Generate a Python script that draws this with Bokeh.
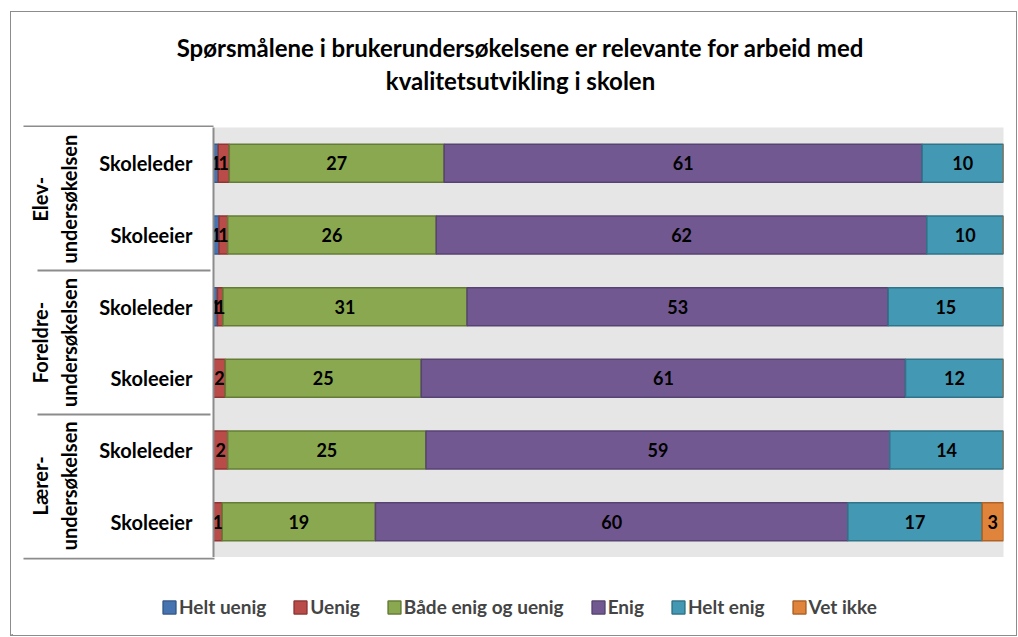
from bokeh.plotting import figure
from bokeh.models import FactorRange, Range1d, Legend, LegendItem, ColumnDataSource
from bokeh.layouts import column
from bokeh.core.properties import value
from bokeh.embed import file_html
from bokeh.resources import INLINE

# ---- data ----
title_lines = ["Spørsmålene i brukerundersøkelsene er relevante for arbeid med",
               "kvalitetsutvikling i skolen"]
groups = ["Elev-\nundersøkelsen", "Elev-\nundersøkelsen",
          "Foreldre-\nundersøkelsen", "Foreldre-\nundersøkelsen",
          "Lærer-\nundersøkelsen", "Lærer-\nundersøkelsen"]
roles = ["Skoleleder", "Skoleeier", "Skoleleder", "Skoleeier", "Skoleleder", "Skoleeier"]
series = ["Helt uenig", "Uenig", "Både enig og uenig", "Enig", "Helt enig", "Vet ikke"]
helt_uenig = [0.6, 0.7, 0.5, 0.0, 0.0, 0.0]
uenig      = [1.4, 1.1, 0.7, 1.5, 1.8, 1.1]
begge      = [27.2, 26.4, 30.9, 24.8, 25.1, 19.4]
enig       = [60.5, 62.1, 53.3, 61.3, 58.7, 59.8]
helt_enig  = [10.3, 9.7, 14.6, 12.4, 14.4, 17.0]
vet_ikke   = [0.0, 0.0, 0.0, 0.0, 0.0, 2.7]

fills = ["#4674b0", "#b94b49", "#8aa84f", "#725890", "#4399b3", "#e0843c"]
lines = ["#345a8c", "#8f3634", "#647c36", "#574371", "#2f7489", "#ae6227"]

FONT = "Lato"
W = 1005          # content width (px)
HEAD_H = 115      # header strip height
FRAME_W, FRAME_H = 790, 430
LEFT = 202
LEG_H = 78


def blank(fig):
    fig.outline_line_color = None
    fig.grid.visible = False
    fig.background_fill_color = "white"
    fig.border_fill_color = "white"
    fig.title.visible = False
    fig.frame_align = False
    return fig


# ---- header (title + top rule of the category table) ----
head = blank(figure(width=W, height=HEAD_H, output_backend="svg", toolbar_location=None,
                    x_range=Range1d(0, W), y_range=Range1d(0, HEAD_H),
                    x_axis_location=None, y_axis_location=None,
                    min_border_left=0, min_border_right=0, min_border_top=0, min_border_bottom=0))
head.text(x=[509, 509], y=[HEAD_H - 35, HEAD_H - 68], text=title_lines,
          text_align="center", text_baseline="middle", text_font=value(FONT),
          text_font_style="bold", text_font_size="24px", text_color="black")
head.segment(x0=[12], y0=[1], x1=[LEFT], y1=[1], line_color="#8c8c8c", line_width=2)

# ---- main chart ----
factors = list(zip(groups, roles))
vals = [helt_uenig, uenig, begge, enig, helt_enig, vet_ikke]
keys = ["s%d" % i for i in range(len(series))]
data = {"y": factors}
for k, v in zip(keys, vals):
    data[k] = v
src = ColumnDataSource(data)

p = figure(frame_width=FRAME_W, frame_height=FRAME_H, output_backend="svg", toolbar_location=None,
           y_range=FactorRange(*reversed(factors), group_padding=0, factor_padding=0, range_padding=0),
           x_range=Range1d(0, 100), x_axis_location=None,
           min_border_left=LEFT, min_border_right=W - LEFT - FRAME_W, min_border_top=0, min_border_bottom=0)
p.background_fill_color = "#e6e6e6"
p.border_fill_color = "white"
p.outline_line_color = None
p.grid.visible = False
p.title.visible = False
p.frame_align = False

renderers = p.hbar_stack(keys, y="y", height=0.53, source=src,
                         fill_color=fills, line_color=lines, line_width=1.5)

lx, ly, lt = [], [], []
for i, f in enumerate(factors):
    cum = 0.0
    for v in vals:
        val = v[i]
        if val > 0:
            lx.append(cum + val / 2.0)
            ly.append(f)
            lt.append(str(int(val + 0.5)))
        cum += val
p.text(x=lx, y=ly, text=lt, text_align="center", text_baseline="middle",
       text_font=value(FONT), text_font_style="bold", text_font_size="18px", text_color="black")

ax = p.yaxis[0]
ax.axis_line_color = "#8c8c8c"
ax.axis_line_width = 2
ax.major_tick_line_color = None
ax.minor_tick_line_color = None
ax.major_label_standoff = 15
ax.major_label_text_font = FONT
ax.major_label_text_font_style = "bold"
ax.major_label_text_font_size = "20px"
ax.major_label_text_color = "black"
ax.group_text_font = FONT
ax.group_text_font_style = "bold"
ax.group_text_font_size = "20px"
ax.group_text_color = "black"
ax.separator_line_color = "#8c8c8c"
ax.separator_line_width = 2

# ---- legend strip (bottom rule of the category table + legend) ----
leg = blank(figure(width=W, height=LEG_H, output_backend="svg", toolbar_location=None,
                   x_range=Range1d(0, W), y_range=Range1d(0, LEG_H),
                   x_axis_location=None, y_axis_location=None,
                   min_border_left=0, min_border_right=0, min_border_top=0, min_border_bottom=0))
leg.segment(x0=[12], y0=[LEG_H - 1], x1=[LEFT + 1], y1=[LEG_H - 1], line_color="#8c8c8c", line_width=2)
# legend swatches: one off-screen bar per series so the legend has glyphs to draw
leg_r = [leg.hbar(y=[-1000], left=[0], right=[1], height=1, fill_color=fc, line_color=lc, line_width=1.5)
         for fc, lc in zip(fills, lines)]
items = [LegendItem(label=s, renderers=[r]) for s, r in zip(series, leg_r)]
legend = Legend(items=items, orientation="horizontal", location=(150, 17),
                label_text_font=FONT, label_text_font_style="bold", label_text_font_size="19px",
                glyph_width=16, glyph_height=16, spacing=26, label_standoff=2,
                border_line_color=None, background_fill_alpha=0, margin=0, padding=0)
leg.add_layout(legend, "center")

page = column(head, p, leg, spacing=0)
page.styles = {"margin-left": "10px", "margin-top": "11px", "border": "1px solid #8c8c8c"}

open("out.html", "w").write(file_html(page, INLINE))
